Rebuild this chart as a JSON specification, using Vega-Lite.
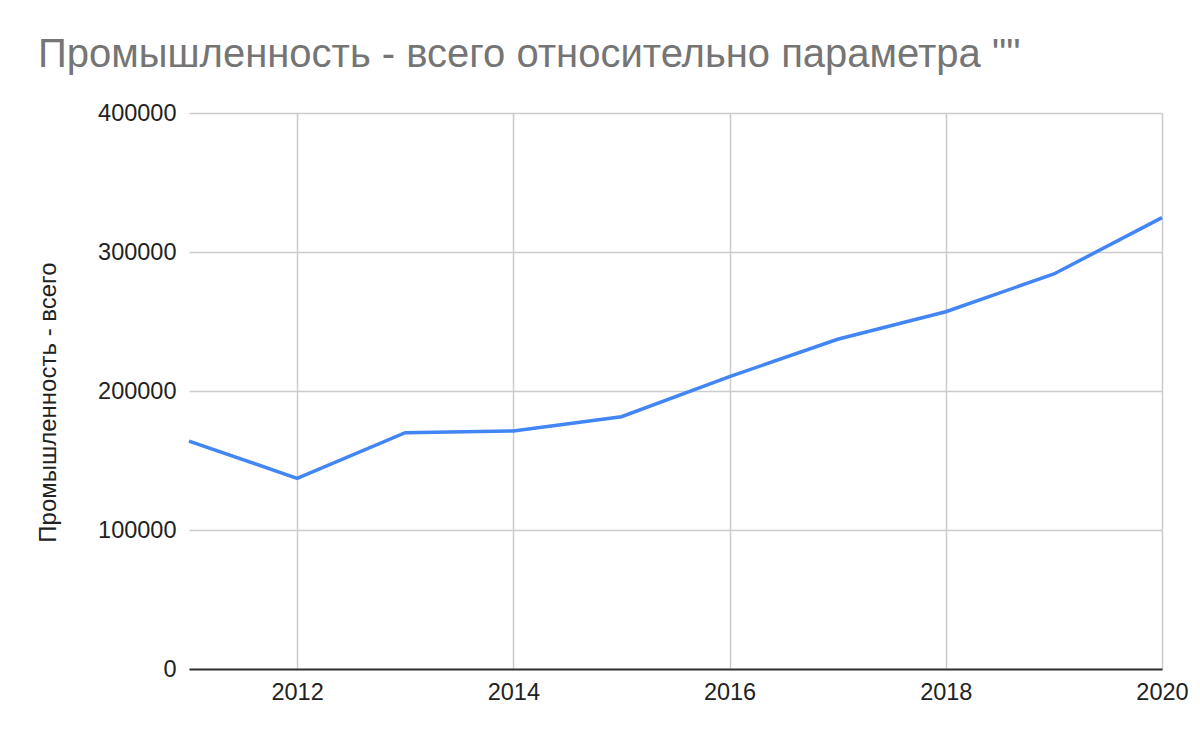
{
  "$schema": "https://vega.github.io/schema/vega-lite/v6.json",
  "autosize": {"type": "none"},
  "width": 973,
  "height": 556,
  "padding": {"left": 189, "top": 113, "right": 38, "bottom": 73},
  "background": "white",
  "config": {
    "view": {"stroke": null},
    "font": "Liberation Sans"
  },
  "title": {
    "text": "Промышленность - всего относительно параметра \"\"",
    "anchor": "start",
    "frame": "group",
    "dx": -151,
    "fontSize": 40,
    "fontWeight": "normal",
    "color": "#757575",
    "font": "Liberation Sans",
    "baseline": "alphabetic",
    "offset": -6
  },
  "data": {
    "values": [
      {"year": 2011, "value": 164000},
      {"year": 2012, "value": 137200},
      {"year": 2013, "value": 170000},
      {"year": 2014, "value": 171200},
      {"year": 2015, "value": 181500},
      {"year": 2016, "value": 210300},
      {"year": 2017, "value": 237200},
      {"year": 2018, "value": 257000},
      {"year": 2019, "value": 284200},
      {"year": 2020, "value": 324700}
    ]
  },
  "mark": {"type": "line", "color": "#4285F4", "strokeWidth": 3.5, "clip": false},
  "encoding": {
    "x": {
      "field": "year",
      "type": "quantitative",
      "scale": {"domain": [2011, 2020], "nice": false, "zero": false},
      "axis": {
        "title": null,
        "values": [2012, 2014, 2016, 2018, 2020],
        "format": "d",
        "labelFontSize": 23.5,
        "labelColor": "#222222",
        "labelPadding": 11,
        "ticks": false,
        "domain": true,
        "domainColor": "#333333",
        "domainWidth": 2,
        "grid": true,
        "gridColor": "#cccccc",
        "gridWidth": 1.5,
        "labelFlush": false
      }
    },
    "y": {
      "field": "value",
      "type": "quantitative",
      "scale": {"domain": [0, 400000], "nice": false},
      "axis": {
        "title": "Промышленность - всего",
        "titleFontSize": 24,
        "titleFontWeight": "normal",
        "titleColor": "#222222",
        "titleX": -141,
        "titleY": 289,
        "titleAngle": -90,
        "titleAlign": "center",
        "titleBaseline": "middle",
        "values": [0, 100000, 200000, 300000, 400000],
        "format": "d",
        "labelFontSize": 23.5,
        "labelColor": "#222222",
        "labelPadding": 13,
        "ticks": false,
        "domain": false,
        "grid": true,
        "gridColor": "#cccccc",
        "gridWidth": 1.5
      }
    }
  }
}
